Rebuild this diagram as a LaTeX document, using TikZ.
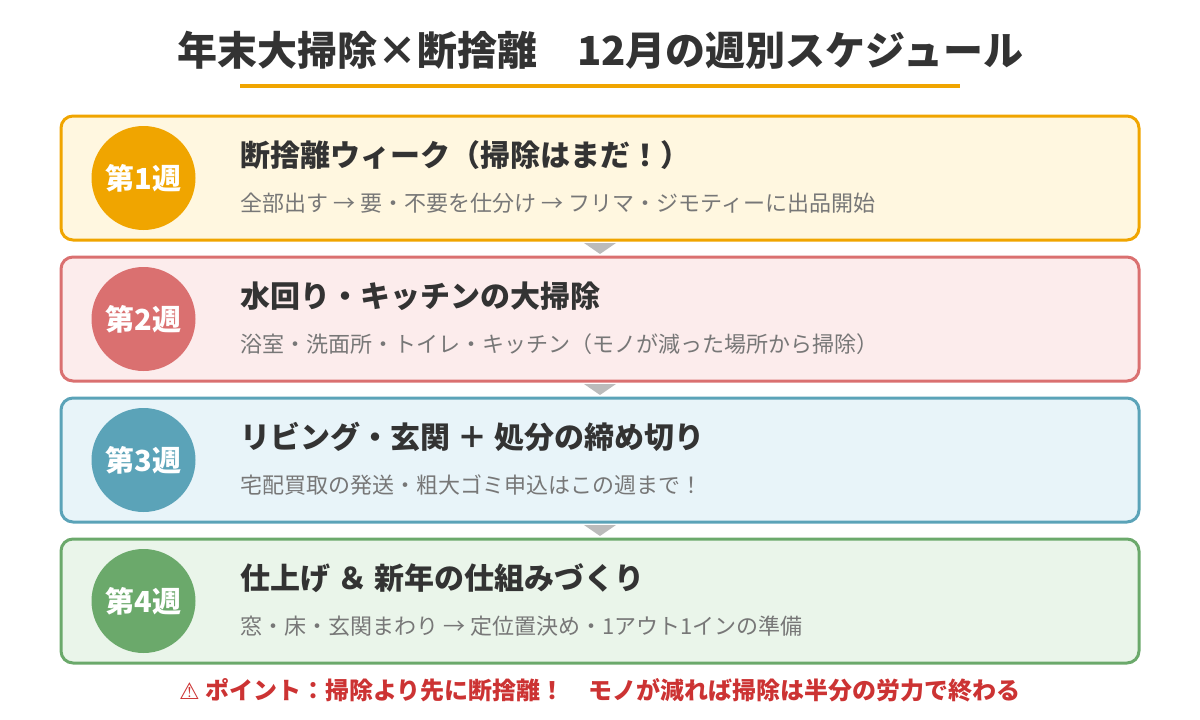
\documentclass[tikz,border=0pt]{standalone}
\usepackage{fontspec}
\setmainfont{Noto Sans CJK JP}
\newfontfamily\symfont{DejaVu Sans}
\usepackage{tikz}

\definecolor{textdark}{HTML}{333333}
\definecolor{textgray}{HTML}{777777}
\definecolor{pointred}{HTML}{CC3333}
\definecolor{arrowgray}{HTML}{BBBBBB}
\definecolor{orangeline}{HTML}{F0A500}
\definecolor{weekonec}{HTML}{F0A500}
\definecolor{weekonef}{HTML}{FFF7E0}
\definecolor{weektwoc}{HTML}{DA7070}
\definecolor{weektwof}{HTML}{FCECEC}
\definecolor{weekthreec}{HTML}{5BA3B8}
\definecolor{weekthreef}{HTML}{E8F4F9}
\definecolor{weekfourc}{HTML}{6BA96B}
\definecolor{weekfourf}{HTML}{EAF5EA}

\begin{document}
\begin{tikzpicture}[x=1pt, y=-1pt,
    weekbox/.style={draw, line width=3pt, rounded corners=12pt,
        minimum width=1078pt, minimum height=124pt, inner sep=0pt},
    badge/.style={circle, minimum size=104pt, inner sep=0pt, text=white,
        font=\fontsize{29}{32}\selectfont\bfseries},
    heading/.style={anchor=west, inner sep=0pt, text=textdark,
        font=\fontsize{30}{34}\selectfont\bfseries},
    detail/.style={anchor=west, inner sep=0pt, text=textgray,
        font=\fontsize{22}{26}\selectfont},
    pointer/.style={fill=arrowgray}]
    \useasboundingbox (0,0) rectangle (1200,720);

    % Title
    \node[text=textdark, font=\fontsize{40}{44}\selectfont\bfseries] (title) at (600,50)
        {年末大掃除×断捨離　12月の週別スケジュール};
    \draw[orangeline, line width=4pt] (240,86) -- (960,86);

    % Week 1
    \node[weekbox, draw=weekonec, fill=weekonef] (box1) at (600,178) {};
    \node[badge, fill=weekonec] (badge1) at ([xshift=84pt]box1.west) {第1週};
    \node[heading] (head1) at ([xshift=181pt,yshift=23pt]box1.west) {断捨離ウィーク（掃除はまだ！）};
    \node[detail] (sub1) at ([xshift=181pt,yshift=-25pt]box1.west)
        {全部出す → 要・不要を仕分け → フリマ・ジモティーに出品開始};

    % Week 2
    \node[weekbox, draw=weektwoc, fill=weektwof] (box2) at (600,319) {};
    \node[badge, fill=weektwoc] (badge2) at ([xshift=84pt]box2.west) {第2週};
    \node[heading] (head2) at ([xshift=181pt,yshift=23pt]box2.west) {水回り・キッチンの大掃除};
    \node[detail] (sub2) at ([xshift=181pt,yshift=-25pt]box2.west)
        {浴室・洗面所・トイレ・キッチン（モノが減った場所から掃除）};

    % Week 3
    \node[weekbox, draw=weekthreec, fill=weekthreef] (box3) at (600,460) {};
    \node[badge, fill=weekthreec] (badge3) at ([xshift=84pt]box3.west) {第3週};
    \node[heading] (head3) at ([xshift=181pt,yshift=23pt]box3.west) {リビング・玄関 ＋ 処分の締め切り};
    \node[detail] (sub3) at ([xshift=181pt,yshift=-25pt]box3.west)
        {宅配買取の発送・粗大ゴミ申込はこの週まで！};

    % Week 4
    \node[weekbox, draw=weekfourc, fill=weekfourf] (box4) at (600,601) {};
    \node[badge, fill=weekfourc] (badge4) at ([xshift=84pt]box4.west) {第4週};
    \node[heading] (head4) at ([xshift=181pt,yshift=23pt]box4.west) {仕上げ ＆ 新年の仕組みづくり};
    \node[detail] (sub4) at ([xshift=181pt,yshift=-25pt]box4.west)
        {窓・床・玄関まわり → 定位置決め・1アウト1インの準備};

    % Pointers between weeks
    \fill[pointer] ([xshift=-16pt,yshift=-1.5pt]box1.south) -- ([xshift=16pt,yshift=-1.5pt]box1.south) -- ([yshift=1.5pt]box2.north) -- cycle;
    \fill[pointer] ([xshift=-16pt,yshift=-1.5pt]box2.south) -- ([xshift=16pt,yshift=-1.5pt]box2.south) -- ([yshift=1.5pt]box3.north) -- cycle;
    \fill[pointer] ([xshift=-16pt,yshift=-1.5pt]box3.south) -- ([xshift=16pt,yshift=-1.5pt]box3.south) -- ([yshift=1.5pt]box4.north) -- cycle;

    % Point
    \node[text=pointred, font=\fontsize{24}{28}\selectfont\bfseries] (point) at (600,690)
        {{\symfont\fontsize{23}{26}\selectfont ⚠} ポイント：掃除より先に断捨離！　モノが減れば掃除は半分の労力で終わる};
\end{tikzpicture}
\end{document}
